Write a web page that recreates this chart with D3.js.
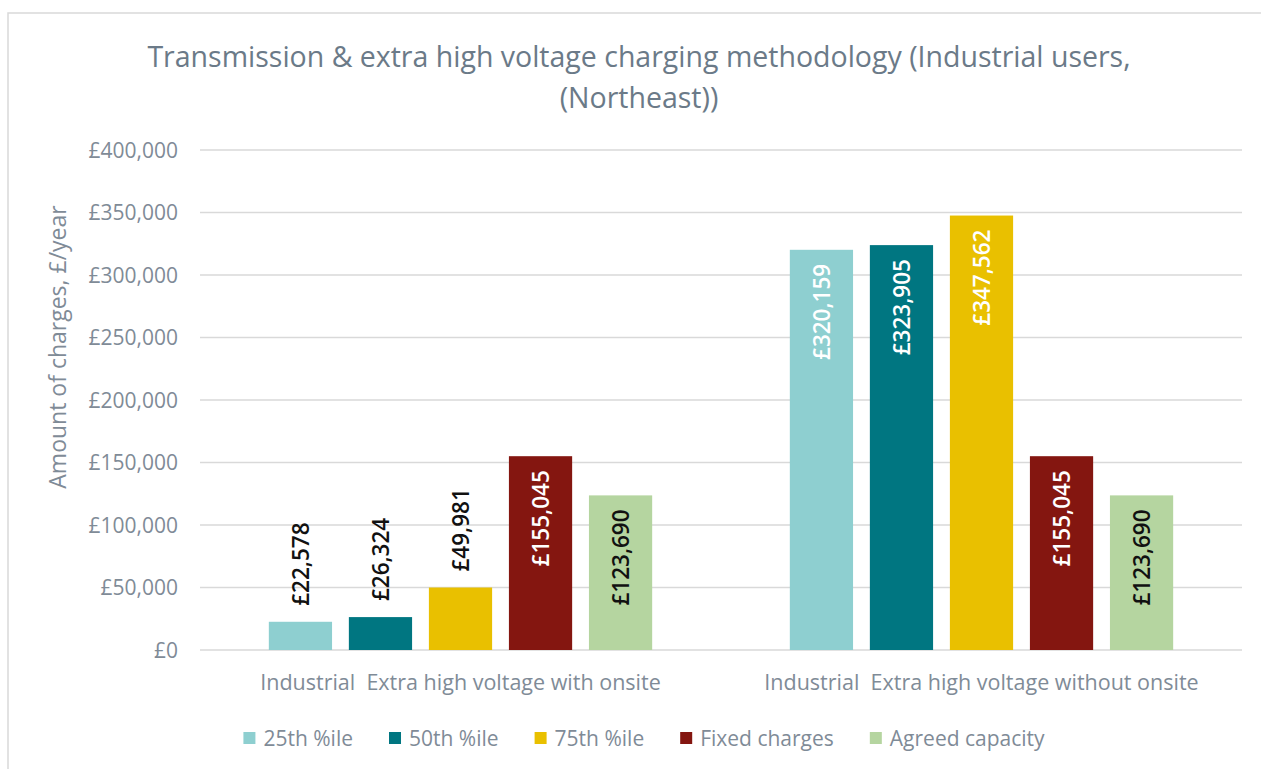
<!DOCTYPE html>
<html>
<head>
<meta charset="utf-8">
<style>
  body { margin: 0; background: #fff; }
  svg { display: block; font-family: "Open Sans", "Noto Sans", sans-serif; }
  .grid line { stroke: #d9d9d9; stroke-width: 1.5; }
  .tick-label { fill: #7f8b97; font-size: 21px; }
</style>
<script src="https://cdn.jsdelivr.net/npm/d3@7"></script>
</head>
<body>
<script>
  // data
  const groups = ["Industrial\u00a0 Extra high voltage with onsite", "Industrial\u00a0 Extra high voltage without onsite"];
  const series = ["25th %ile", "50th %ile", "75th %ile", "Fixed charges", "Agreed capacity"];
  const withOnsite = [22578, 26324, 49981, 155045, 123690];
  const withoutOnsite = [320159, 323905, 347562, 155045, 123690];
  const yTicks = [0, 50000, 100000, 150000, 200000, 250000, 300000, 350000, 400000];
  const colors = ["#8ecfd0", "#007681", "#e9c000", "#841610", "#b5d5a0"];
  const insideLabelColors = ["#ffffff", "#ffffff", "#ffffff", "#ffffff", "#111111"];

  const width = 1261, height = 769;
  const plot = { left: 200, right: 1242, top: 150, bottom: 650 };

  const svg = d3.select("body").append("svg")
    .attr("width", width)
    .attr("height", height);

  // outer chart frame
  svg.append("rect")
    .attr("x", 8).attr("y", 13)
    .attr("width", 1300).attr("height", 800)
    .attr("fill", "none")
    .attr("stroke", "#d9d9d9")
    .attr("stroke-width", 1.5);

  // title
  const title = svg.append("text")
    .attr("text-anchor", "middle")
    .attr("fill", "#6b7a88")
    .style("font-size", "28.5px");
  title.append("tspan").attr("x", 639).attr("y", 67)
    .text("Transmission & extra high voltage charging methodology (Industrial users,");
  title.append("tspan").attr("x", 639).attr("y", 108)
    .text("(Northeast))");

  const y = d3.scaleLinear()
    .domain([0, 400000])
    .range([plot.bottom, plot.top]);

  const x0 = d3.scaleBand()
    .domain(groups)
    .range([plot.left, plot.right]);

  const x1 = d3.scaleBand()
    .domain(series)
    .range([0, x0.bandwidth()])
    .paddingInner(0.21)
    .paddingOuter(0.86);

  // gridlines
  const grid = svg.append("g").attr("class", "grid");
  grid.selectAll("line").data(yTicks).join("line")
    .attr("x1", plot.left).attr("x2", plot.right)
    .attr("y1", d => y(d)).attr("y2", d => y(d));

  const fmt = d3.format(",");
  svg.append("g").selectAll("text").data(yTicks).join("text")
    .attr("class", "tick-label")
    .attr("x", 178)
    .attr("y", d => y(d))
    .attr("dy", "0.36em")
    .attr("text-anchor", "end")
    .text(d => "£" + fmt(d));

  // y axis title
  svg.append("text")
    .attr("transform", "translate(58,347) rotate(-90)")
    .attr("text-anchor", "middle")
    .attr("dy", "0.35em")
    .attr("fill", "#7f8b97")
    .style("font-size", "23px")
    .text("Amount of charges, £/year");

  const rows = [withOnsite, withoutOnsite];
  const bars = [];
  groups.forEach((g, gi) => {
    series.forEach((s, si) => {
      bars.push({ group: g, series: s, si: si, value: rows[gi][si] });
    });
  });

  svg.append("g").selectAll("rect").data(bars).join("rect")
    .attr("x", d => x0(d.group) + x1(d.series))
    .attr("y", d => y(d.value))
    .attr("width", x1.bandwidth())
    .attr("height", d => y(0) - y(d.value))
    .attr("fill", d => colors[d.si]);

  // data labels, rotated; inside the bar top when there is room, else above it
  const labelLen = 100;
  svg.append("g").selectAll("text").data(bars).join("text")
    .each(function (d) {
      const cx = x0(d.group) + x1(d.series) + x1.bandwidth() / 2;
      const top = y(d.value);
      const inside = (y(0) - top) > labelLen + 28;
      d3.select(this)
        .attr("transform", `translate(${cx},${inside ? top + 14 : top - 16}) rotate(-90)`)
        .attr("text-anchor", inside ? "end" : "start")
        .attr("fill", inside ? insideLabelColors[d.si] : "#111111");
    })
    .attr("dy", "0.36em")
    .style("font-size", "22.5px")
    .style("font-weight", 600)
    .text(d => "£" + fmt(d.value));

  // category labels
  svg.append("g").selectAll("text").data(groups).join("text")
    .attr("x", d => x0(d) + x0.bandwidth() / 2)
    .attr("y", 690)
    .attr("text-anchor", "middle")
    .attr("fill", "#7f8b97")
    .style("font-size", "21.5px")
    .text(d => d);

  // legend
  const legend = svg.append("g");
  const items = legend.selectAll("g").data(series).join("g");
  items.append("rect")
    .attr("width", 12).attr("height", 12)
    .attr("y", -6)
    .attr("fill", (d, i) => colors[i]);
  items.append("text")
    .attr("x", 20)
    .attr("dy", "0.36em")
    .attr("fill", "#7f8b97")
    .style("font-size", "21px")
    .text(d => d);

  let cursor = 0;
  items.each(function () {
    d3.select(this).attr("transform", `translate(${cursor},0)`);
    cursor += 20 + this.querySelector("text").getComputedTextLength() + 36;
  });
  const legendWidth = cursor - 36;
  legend.attr("transform", `translate(${644 - legendWidth / 2},738)`);
</script>
</body>
</html>
